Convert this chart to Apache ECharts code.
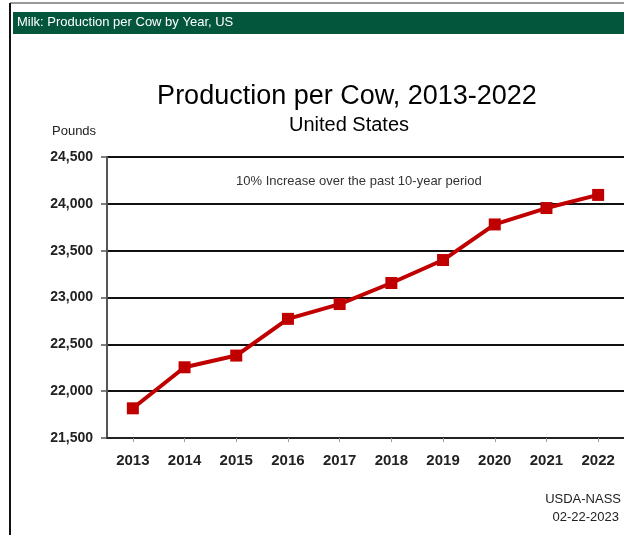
<!DOCTYPE html>
<html>
<head>
<meta charset="utf-8">
<script src="https://cdn.jsdelivr.net/npm/echarts@6/dist/echarts.min.js"></script>
<style>
  html, body { margin: 0; padding: 0; background: #fff; }
  #chart { width: 624px; height: 535px; }
</style>
</head>
<body>
<div id="chart"></div>
<script>
// data
var years = ["2013", "2014", "2015", "2016", "2017", "2018", "2019", "2020", "2021", "2022"];
var pounds = [21817, 22255, 22380, 22772, 22930, 23155, 23400, 23780, 23955, 24095];
var yMin = 21500, yMax = 24500, yStep = 500;

var myChart = echarts.init(document.getElementById("chart"));

myChart.setOption({
  backgroundColor: "#fff",
  animation: false,
  grid: { left: 107, right: -1, top: 157, bottom: 97 },
  title: [
    {
      text: "Production per Cow, 2013-2022",
      left: 342, top: 78, textAlign: "center",
      textStyle: { fontFamily: "Liberation Sans", fontSize: 27, fontWeight: "normal", color: "#000" }
    },
    {
      text: "United States",
      left: 344, top: 110, textAlign: "center",
      textStyle: { fontFamily: "Liberation Sans", fontSize: 20, fontWeight: "normal", color: "#000" }
    }
  ],
  xAxis: {
    type: "category",
    data: years,
    boundaryGap: true,
    axisLine: { lineStyle: { color: "#222", width: 2 } },
    axisTick: { show: true, alignWithLabel: true, length: 4, lineStyle: { color: "#999" } },
    axisLabel: {
      margin: 15,
      fontFamily: "Liberation Sans", fontSize: 15, fontWeight: "bold", color: "#222"
    },
    splitLine: { show: false }
  },
  yAxis: {
    type: "value",
    min: yMin, max: yMax, interval: yStep,
    axisLine: { show: true, lineStyle: { color: "#555", width: 2 } },
    axisTick: { show: true, length: 6, lineStyle: { color: "#555", width: 1.5 } },
    axisLabel: {
      margin: 14,
      fontFamily: "Liberation Sans", fontSize: 14, fontWeight: "bold", color: "#222",
      formatter: function (v) { return v.toLocaleString("en-US"); }
    },
    splitLine: { show: true, lineStyle: { color: "#111", width: 1.8 } }
  },
  series: [
    {
      type: "line",
      data: pounds,
      symbol: "rect",
      symbolSize: 12,
      lineStyle: { color: "#c00000", width: 4 },
      itemStyle: { color: "#c00000" },
      z: 5
    }
  ],
  graphic: [
    // outer frame
    { type: "line", shape: { x1: 10, y1: 3, x2: 624, y2: 3 }, style: { stroke: "#777", lineWidth: 1.5 } },
    { type: "line", shape: { x1: 10, y1: 3, x2: 10, y2: 535 }, style: { stroke: "#111", lineWidth: 2 } },
    // header bar
    { type: "rect", shape: { x: 13, y: 12, width: 611, height: 22 }, style: { fill: "#03563b" } },
    {
      type: "text", left: 17, top: 16,
      style: { text: "Milk: Production per Cow by Year, US", fill: "#fff", font: "13px 'Liberation Sans'" }
    },
    {
      type: "text", left: 52, top: 125,
      style: { text: "Pounds", fill: "#222", font: "13px 'Liberation Sans'" }
    },
    {
      type: "text", left: 236, top: 175,
      style: { text: "10% Increase over the past 10-year period", fill: "#333", font: "13px 'Liberation Sans'" }
    },
    {
      type: "text", right: 3, top: 493,
      style: { text: "USDA-NASS", fill: "#222", font: "13px 'Liberation Sans'", align: "right" }
    },
    {
      type: "text", right: 5, top: 511,
      style: { text: "02-22-2023", fill: "#222", font: "13px 'Liberation Sans'", align: "right" }
    }
  ]
});
</script>
</body>
</html>
